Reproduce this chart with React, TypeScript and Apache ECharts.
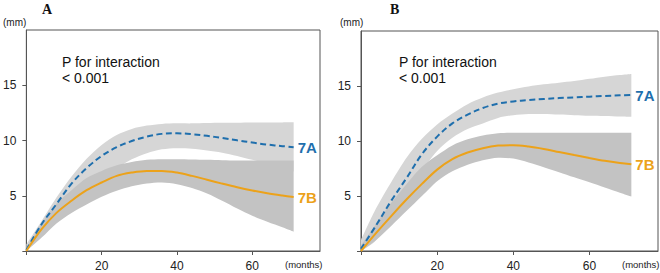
import React, { useEffect, useRef } from 'react';
import * as echarts from 'echarts';

const months = [0, 4, 8, 12, 16, 20, 24, 28, 32, 36, 40, 44, 48, 52, 56, 60, 64, 68, 71];

// Panel A
const A_7A_mean = [0.1, 2.4, 4.25, 6.1, 7.5, 8.6, 9.4, 9.95, 10.35, 10.6, 10.65, 10.57, 10.42, 10.23, 10.02, 9.82, 9.63, 9.49, 9.4];
const A_7A_upper = [0.6, 2.7, 4.85, 6.75, 8.35, 9.6, 10.5, 11.05, 11.35, 11.5, 11.55, 11.55, 11.58, 11.6, 11.6, 11.62, 11.63, 11.64, 11.65];
const A_7A_lower = [0, 1.6, 3.0, 4.4, 5.6, 6.6, 7.5, 8.3, 8.85, 9.2, 9.3, 9.25, 9.1, 8.9, 8.6, 8.25, 7.9, 7.5, 7.2];
const A_7B_mean = [0, 1.95, 3.45, 4.55, 5.5, 6.2, 6.8, 7.1, 7.25, 7.25, 7.1, 6.8, 6.45, 6.1, 5.77, 5.48, 5.23, 5.02, 4.88];
const A_7B_upper = [0.3, 2.5, 4.3, 5.5, 6.6, 7.25, 7.75, 8.05, 8.25, 8.3, 8.3, 8.28, 8.25, 8.22, 8.2, 8.2, 8.2, 8.2, 8.2];
const A_7B_lower = [0, 1.2, 2.5, 3.45, 4.2, 4.9, 5.45, 5.85, 6.1, 6.2, 6.05, 5.7, 5.2, 4.55, 3.85, 3.2, 2.65, 2.15, 1.75];

// Panel B
const B_7A_mean = [0.2, 2.35, 4.6, 6.65, 8.8, 10.4, 11.6, 12.4, 13.0, 13.4, 13.6, 13.72, 13.82, 13.9, 13.97, 14.03, 14.1, 14.15, 14.18];
const B_7A_upper = [1.0, 3.9, 6.3, 8.5, 10.2, 11.5, 12.5, 13.35, 13.95, 14.4, 14.7, 14.95, 15.15, 15.3, 15.45, 15.65, 15.85, 16.0, 16.1];
const B_7A_lower = [0, 1.0, 3.2, 5.2, 7.3, 9.1, 10.3, 11.1, 11.6, 12.1, 12.35, 12.45, 12.45, 12.4, 12.35, 12.3, 12.28, 12.22, 12.2];
const B_7B_mean = [0, 1.65, 3.2, 4.7, 6.1, 7.4, 8.35, 8.95, 9.35, 9.58, 9.62, 9.5, 9.28, 9.0, 8.72, 8.45, 8.2, 8.0, 7.88];
const B_7B_upper = [0.5, 2.5, 4.4, 6.1, 7.65, 8.7, 9.6, 10.15, 10.5, 10.7, 10.75, 10.75, 10.75, 10.75, 10.75, 10.75, 10.75, 10.75, 10.75];
const B_7B_lower = [0, 1.0, 2.3, 3.65, 5.0, 6.35, 7.25, 7.85, 8.25, 8.48, 8.4, 8.05, 7.62, 7.17, 6.7, 6.25, 5.78, 5.3, 4.95];

const xTicks = [0, 20, 40, 60];
const xTickLabels = [20, 40, 60];
const yTicks = [0, 5, 10, 15];
const yTickLabels = [5, 10, 15];

const panelTitles = ['A', 'B'];
const groupNames = ['7A', '7B'];
const annotation = ['P for interaction', '< 0.001'];

const BLUE = '#1f6fad';
const ORANGE = '#eca21a';
const LIGHT = '#d6d6d6';
const DARK = '#c3c3c3';
const SANS = '"Liberation Sans", Arial, sans-serif';
const SERIF = '"Liberation Serif", "Times New Roman", serif';

const zip = (ys: number[]) => months.map((m, i) => [m, ys[i]]);

// Smooth (Catmull-Rom -> Bezier) path through pixel points, continuing from current point
function curveSegs(pts: number[][], t = 0.9): string {
  let d = '';
  for (let i = 0; i < pts.length - 1; i++) {
    const p0 = pts[Math.max(0, i - 1)];
    const p1 = pts[i];
    const p2 = pts[i + 1];
    const p3 = pts[Math.min(pts.length - 1, i + 2)];
    const c1x = p1[0] + ((p2[0] - p0[0]) / 6) * t;
    const c1y = p1[1] + ((p2[1] - p0[1]) / 6) * t;
    const c2x = p2[0] - ((p3[0] - p1[0]) / 6) * t;
    const c2y = p2[1] - ((p3[1] - p1[1]) / 6) * t;
    d += ` C ${c1x} ${c1y} ${c2x} ${c2y} ${p2[0]} ${p2[1]}`;
  }
  return d;
}

function band(idx: number, lower: number[], upper: number[], color: string, z: number) {
  return {
    type: 'custom',
    coordinateSystem: 'cartesian2d',
    xAxisIndex: idx,
    yAxisIndex: idx,
    silent: true,
    z,
    clip: true,
    data: months.map((m, i) => [m, lower[i], upper[i]]),
    encode: { x: 0, y: [1, 2] },
    renderItem: (params: any, api: any) => {
      if (params.dataIndex !== 0) return null;
      const up = months.map((m, i) => api.coord([m, upper[i]]));
      const lo = months.map((m, i) => api.coord([m, lower[i]])).reverse();
      let d = `M ${up[0][0]} ${up[0][1]}` + curveSegs(up);
      d += ` L ${lo[0][0]} ${lo[0][1]}` + curveSegs(lo) + ' Z';
      return {
        type: 'path',
        shape: { pathData: d },
        style: { fill: color, stroke: 'none' },
      };
    },
  };
}

function meanLine(idx: number, ys: number[], color: string, label: string, dashed: boolean) {
  return {
    type: 'line',
    xAxisIndex: idx,
    yAxisIndex: idx,
    data: zip(ys),
    smooth: 0.35,
    symbol: 'none',
    silent: true,
    z: 5,
    lineStyle: { color, width: 2, type: dashed ? [6, 3.5] : 'solid' },
    endLabel: {
      show: true,
      formatter: label,
      color,
      fontFamily: SANS,
      fontWeight: 'bold',
      fontSize: 15,
      distance: 4,
    },
  };
}

function xAxis(idx: number) {
  return {
    type: 'value',
    gridIndex: idx,
    min: 0,
    max: 78,
    splitLine: { show: false },
    axisLine: { show: true, lineStyle: { color: '#555', width: 1 } },
    axisTick: { show: true, length: 4, lineStyle: { color: '#555' }, customValues: xTicks },
    axisLabel: { color: '#222', fontSize: 12, fontFamily: SANS, margin: 9, customValues: xTickLabels },
  };
}

function yAxis(idx: number) {
  return {
    type: 'value',
    gridIndex: idx,
    min: 0,
    max: 20,
    splitLine: { show: false },
    axisLine: { show: true, lineStyle: { color: '#555', width: 1 } },
    axisTick: { show: true, length: 4, lineStyle: { color: '#555' }, customValues: yTicks },
    axisLabel: { color: '#222', fontSize: 12, fontFamily: SANS, margin: 10, customValues: yTickLabels },
  };
}

function texts(ox: number, title: string, titleX: number) {
  return [
    { type: 'text', z: 20, left: titleX, top: 2, style: { text: title, font: `bold 14px ${SERIF}`, fill: '#111' } },
    { type: 'text', z: 20, x: ox - 21, y: 22.5, style: { text: '(mm)', font: `10px ${SANS}`, fill: '#222', verticalAlign: 'middle' } },
    { type: 'text', z: 20, x: ox + 38, y: 61.5, style: { text: annotation[0], font: `14px ${SANS}`, fill: '#111', verticalAlign: 'middle' } },
    { type: 'text', z: 20, x: ox + 38, y: 77.5, style: { text: annotation[1], font: `14px ${SANS}`, fill: '#111', verticalAlign: 'middle' } },
    { type: 'text', z: 20, x: ox + 261, y: 264.5, style: { text: '(months)', font: `9.5px ${SANS}`, fill: '#222', verticalAlign: 'middle' } },
  ];
}

export default function App() {
  const ref = useRef<HTMLDivElement>(null);
  useEffect(() => {
    if (!ref.current) return;
    const chart = echarts.init(ref.current, null, { renderer: 'svg' });
    const option: any = {
      animation: false,
      backgroundColor: '#ffffff',
      grid: [
        { left: 24, top: 30, width: 296, height: 221, show: true, borderColor: '#555', borderWidth: 1, containLabel: false },
        { left: 361, top: 31, width: 297, height: 220, show: true, borderColor: '#555', borderWidth: 1, containLabel: false },
      ],
      xAxis: [xAxis(0), xAxis(1)],
      yAxis: [yAxis(0), yAxis(1)],
      series: [
        band(0, A_7A_lower, A_7A_upper, LIGHT, 1),
        band(0, A_7B_lower, A_7B_upper, DARK, 2),
        meanLine(0, A_7A_mean, BLUE, groupNames[0], true),
        meanLine(0, A_7B_mean, ORANGE, groupNames[1], false),
        band(1, B_7A_lower, B_7A_upper, LIGHT, 1),
        band(1, B_7B_lower, B_7B_upper, DARK, 2),
        meanLine(1, B_7A_mean, BLUE, groupNames[0], true),
        meanLine(1, B_7B_mean, ORANGE, groupNames[1], false),
      ],
      graphic: [...texts(24, panelTitles[0], 42), ...texts(361, panelTitles[1], 390)],
    };
    chart.setOption(option);
    return () => chart.dispose();
  }, []);
  return <div ref={ref} style={{ position: 'absolute', left: 0, top: 0, width: 660, height: 273 }} />;
}
